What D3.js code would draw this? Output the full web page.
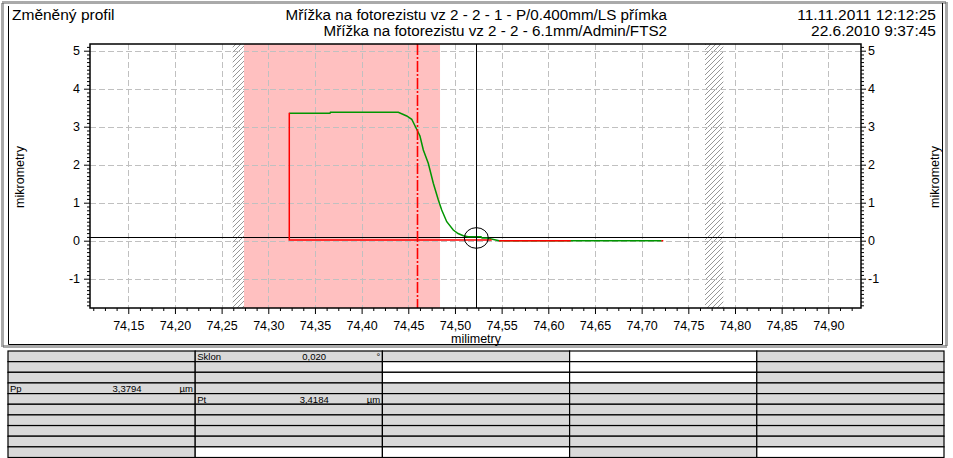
<!DOCTYPE html>
<html><head><meta charset="utf-8">
<script src="https://cdn.jsdelivr.net/npm/d3@7/dist/d3.min.js"></script>
<style>
body{margin:0;background:#fff;}
svg{display:block;}
text{font-family:"Liberation Sans",Arial,sans-serif;fill:#000;}
</style>
</head><body>
<svg id="c" width="953" height="458"></svg>
<script>
// ---------- data ----------
const headerLeft = "Změněný profil";
const titleLines = ["Mřížka na fotorezistu vz 2 - 2 - 1 - P/0.400mm/LS přímka",
                    "Mřížka na fotorezistu vz 2 - 2 - 6.1mm/Admin/FTS2"];
const dateLines = ["11.11.2011 12:12:25", "22.6.2010 9:37:45"];
const xAxisTitle = "milimetry";
const yAxisTitle = "mikrometry";

const xTickValues = [74.15,74.20,74.25,74.30,74.35,74.40,74.45,74.50,74.55,74.60,74.65,74.70,74.75,74.80,74.85,74.90];
const xTickLabels = ["74,15","74,20","74,25","74,30","74,35","74,40","74,45","74,50","74,55","74,60","74,65","74,70","74,75","74,80","74,85","74,90"];
const yTickValues = [-1,0,1,2,3,4,5];
const yTickLabels = ["-1","0","1","2","3","4","5"];

// green (reference) profile
const greenX = [74.3225,74.3661,74.3666,74.4393,74.4483,74.4537,74.4590,74.4625,74.4661,74.4714,74.4768,74.4822,74.4858,74.4912,74.4982,74.5033,74.5089,74.5140,74.5279,74.5290,74.5343,74.5472,74.7215];
const greenY = [3.353,3.353,3.379,3.379,3.282,3.195,2.932,2.755,2.387,2.037,1.511,1.071,0.808,0.500,0.282,0.189,0.132,0.105,0.105,0.071,0.071,0.000,0.000];

// red (changed) profile, null = gap
const redX = [74.3225,74.3225,74.5394,null,74.5472,74.6240,null,74.7212,74.7232];
const redY = [3.368,0.018,0.018,null,0.000,0.000,null,0.000,0.000];

const pinkBand = [74.2740, 74.4840];
const hatchBands = [[74.2619, 74.2740], [74.7679, 74.7875]];
const markerX = 74.4590;
const cursorX = 74.5229;
const cursorY = 0.085;

// table
const tableFills = ["GGGGGGGGGG","GGGGGGGGGW","GWWGGGGGGW","WWWGGGGGGG","GGGGGGGGGW"];
const tableCells = [
  {col:0,row:3,label:"Pp",value:"3,3794",unit:"µm"},
  {col:1,row:0,label:"Sklon",value:"0,020",unit:"°"},
  {col:1,row:4,label:"Pt",value:"3,4184",unit:"µm"}
];

// ---------- drawing ----------
const svg = d3.select("#c");
const L=90, R=861, T=44, B=308;
const x = d3.scaleLinear().domain([74.109, 74.935]).range([L, R]);
const y = d3.scaleLinear().domain([-1.771, 5.176]).range([B, T]);

const defs = svg.append("defs");
const pat = defs.append("pattern").attr("id","hatch").attr("patternUnits","userSpaceOnUse")
  .attr("width",5).attr("height",5);
pat.append("path").attr("d","M-1,6 L6,-1").attr("stroke","#8a8a8a").attr("stroke-width",0.9);
defs.append("clipPath").attr("id","plotclip").append("rect")
  .attr("x",L).attr("y",T).attr("width",R-L).attr("height",B-T);

// outer frame
svg.append("rect").attr("x",2.5).attr("y",2.5).attr("width",944).attr("height",344)
  .attr("fill","none").attr("stroke","#555").attr("stroke-width",3).attr("stroke-dasharray","1,1");
svg.append("path").attr("d","M8.5,6V344.5H942.5V3").attr("fill","none").attr("stroke","#000").attr("stroke-width",1);

// header
svg.append("text").attr("x",12).attr("y",20).attr("font-size",15.5).text(headerLeft);
titleLines.forEach((t,i)=> svg.append("text").attr("x",667).attr("y",20+i*15.5)
  .attr("text-anchor","end").attr("font-size",15.2).text(t));
dateLines.forEach((t,i)=> svg.append("text").attr("x",936).attr("y",20+i*15.5)
  .attr("text-anchor","end").attr("font-size",15.5).text(t));

const plot = svg.append("g").attr("clip-path","url(#plotclip)");
// pink band
plot.append("rect").attr("x",x(pinkBand[0])).attr("width",x(pinkBand[1])-x(pinkBand[0]))
  .attr("y",T).attr("height",B-T).attr("fill","#ffc0c0");
// hatch
plot.selectAll("rect.h").data(hatchBands).join("rect").attr("class","h")
  .attr("x",d=>x(d[0])).attr("width",d=>x(d[1])-x(d[0])).attr("y",T).attr("height",B-T)
  .attr("fill","url(#hatch)");
// grid
plot.selectAll("line.gx").data(xTickValues).join("line").attr("class","gx")
  .attr("x1",d=>Math.round(x(d))+0.5).attr("x2",d=>Math.round(x(d))+0.5).attr("y1",T).attr("y2",B)
  .attr("stroke","#c0c0c0").attr("stroke-dasharray","6,3");
plot.selectAll("line.gy").data(yTickValues).join("line").attr("class","gy")
  .attr("y1",d=>Math.round(y(d))+0.5).attr("y2",d=>Math.round(y(d))+0.5).attr("x1",L).attr("x2",R)
  .attr("stroke","#c0c0c0").attr("stroke-dasharray","6,3");
// cursor horizontal line
plot.append("line").attr("x1",L).attr("x2",R).attr("y1",Math.round(y(cursorY))+0.5).attr("y2",Math.round(y(cursorY))+0.5)
  .attr("stroke","#000").attr("stroke-width",1);

// curves
const gpts = greenX.map((v,i)=>[v,greenY[i]]);
const rpts = redX.map((v,i)=>[v,redY[i]]);
const line = d3.line().defined(d=>d[0]!=null).x(d=>x(d[0])).y(d=>y(d[1]));
plot.append("path").attr("d",line(gpts)).attr("fill","none").attr("stroke","#009600").attr("stroke-width",1.5);
plot.append("path").attr("d",line(rpts)).attr("fill","none").attr("stroke","#ff0000").attr("stroke-width",1.5);
// marker line dash-dot
plot.append("line").attr("x1",Math.round(x(markerX))+0.5).attr("x2",Math.round(x(markerX))+0.5).attr("y1",T).attr("y2",B)
  .attr("stroke","#ff0000").attr("stroke-width",1.6).attr("stroke-dasharray","11,2,2,2");
// cursor vertical + ellipse
plot.append("line").attr("x1",Math.round(x(cursorX))+0.5).attr("x2",Math.round(x(cursorX))+0.5).attr("y1",T).attr("y2",B)
  .attr("stroke","#000").attr("stroke-width",1);
plot.append("ellipse").attr("cx",x(cursorX)).attr("cy",y(cursorY)+0.5).attr("rx",12).attr("ry",10.3)
  .attr("fill","none").attr("stroke","#000").attr("stroke-width",1);

// frame
svg.append("rect").attr("x",L).attr("y",T).attr("width",R-L).attr("height",B-T)
  .attr("fill","none").attr("stroke","#000").attr("stroke-width",1.5);

// axes
const xMinor = d3.range(5929, 5995).filter(k=>k%4!==0).map(k=>k*0.0125);
const xAx = d3.axisBottom(x).tickValues(xTickValues).tickFormat((d,i)=>xTickLabels[i]).tickSize(6).tickPadding(7);
svg.append("g").attr("transform",`translate(0,${B})`).call(xAx);
svg.append("g").attr("transform",`translate(0,${B})`).call(d3.axisBottom(x).tickValues(xMinor).tickFormat("").tickSize(3));
const yMinor = d3.range(-17, 52).filter(k=>k%10!==0).map(k=>k/10);
const yL = d3.axisLeft(y).tickValues(yTickValues).tickFormat((d,i)=>yTickLabels[i]).tickSize(6).tickPadding(4);
const yR = d3.axisRight(y).tickValues(yTickValues).tickFormat((d,i)=>yTickLabels[i]).tickSize(5).tickPadding(2);
svg.append("g").attr("transform",`translate(${L},0)`).call(yL);
svg.append("g").attr("transform",`translate(${L},0)`).call(d3.axisLeft(y).tickValues(yMinor).tickFormat("").tickSize(3));
svg.append("g").attr("transform",`translate(${R},0)`).call(yR);
svg.append("g").attr("transform",`translate(${R},0)`).call(d3.axisRight(y).tickValues(yMinor).tickFormat("").tickSize(3));
svg.selectAll(".domain").remove();
svg.selectAll(".tick line").attr("stroke","#000");
svg.selectAll(".tick text").attr("font-family","'Liberation Sans',Arial,sans-serif").attr("font-size",12.5).attr("fill","#000");

svg.append("text").attr("x",476).attr("y",343).attr("text-anchor","middle").attr("font-size",12.5).text(xAxisTitle);
svg.append("text").attr("transform","translate(24,177) rotate(-90)").attr("text-anchor","middle").attr("font-size",12.5).text(yAxisTitle);
svg.append("text").attr("transform","translate(939,177) rotate(-90)").attr("text-anchor","middle").attr("font-size",12.5).text(yAxisTitle);

// table
const tx = d3.scaleLinear().domain([0,5]).range([8,944]);
const ty = d3.scaleLinear().domain([0,10]).range([351,457.5]);
const tg = svg.append("g");
tableFills.forEach((col,ci)=>{
  col.split("").forEach((f,ri)=>{
    tg.append("rect").attr("x",tx(ci)).attr("y",ty(ri)).attr("width",tx(ci+1)-tx(ci)).attr("height",ty(ri+1)-ty(ri))
      .attr("fill", f==="G" ? "#d9d9d9" : "#ffffff").attr("stroke","#000").attr("stroke-width",1.2);
  });
});
tableCells.forEach(c=>{
  const x0 = tx(c.col), yb = ty(c.row+1)-1.5;
  tg.append("text").attr("x",x0+2).attr("y",yb).attr("font-size",9.5).text(c.label);
  tg.append("text").attr("x",x0+119).attr("y",yb).attr("text-anchor","middle").attr("font-size",9.5).text(c.value);
  tg.append("text").attr("x",x0+185).attr("y",yb).attr("text-anchor","end").attr("font-size",9.5).text(c.unit);
});
</script>
</body></html>
